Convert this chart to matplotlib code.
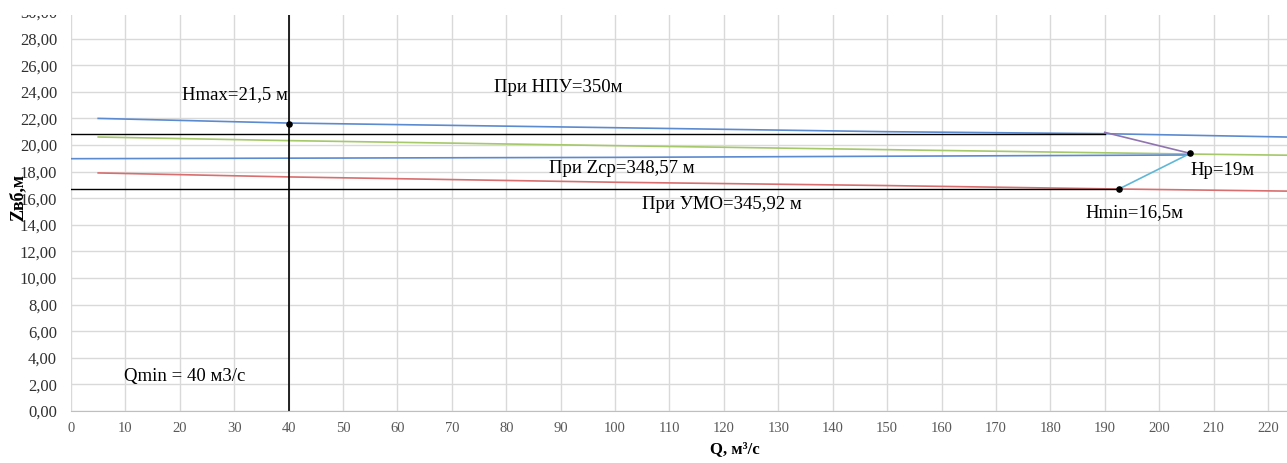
import matplotlib
matplotlib.use('Agg')
import matplotlib.pyplot as plt
from matplotlib.patches import Rectangle
from matplotlib.ticker import FuncFormatter, MultipleLocator

plt.rcParams['font.family'] = ['Liberation Serif', 'DejaVu Serif']

# curves Zвб(Q)
q_npu = [5, 40, 100, 150, 190, 230]
z_npu = [22.0, 21.65, 21.3, 21.0, 20.85, 20.55]
q_sr = [5, 40, 100, 150, 205.7, 230]
z_sr = [20.6, 20.33, 19.95, 19.65, 19.32, 19.2]
q_sr2 = [0, 100, 205.7]
z_sr2 = [18.97, 19.07, 19.25]
q_umo = [5, 40, 100, 150, 192.6, 230]
z_umo = [17.9, 17.6, 17.2, 16.95, 16.69, 16.5]

# working zone lines
q_top = [0, 190]
z_top = [20.85, 20.85]
q_bot = [0, 192.6]
z_bot = [16.67, 16.67]
q_upper_edge = [190, 205.7]
z_upper_edge = [20.95, 19.37]
q_lower_edge = [192.6, 205.7]
z_lower_edge = [16.69, 19.37]

q_min = 40
pts_q = [40, 205.7, 192.6]
pts_z = [21.6, 19.37, 16.69]

fig = plt.figure(figsize=(12.87, 4.63), dpi=100)
ax = fig.add_axes([71 / 1287, 52 / 463, 1216 / 1287, 399 / 463])

ax.plot(q_npu, z_npu, color='#5b8ad0', lw=1.2)
ax.plot(q_sr, z_sr, color='#a5c868', lw=1.2)
ax.plot(q_sr2, z_sr2, color='#5b8ad0', lw=1.2)
ax.plot(q_umo, z_umo, color='#d86e6e', lw=1.2)
ax.plot(q_top, z_top, color='black', lw=1.0)
ax.plot(q_bot, z_bot, color='black', lw=1.0)
ax.plot(q_upper_edge, z_upper_edge, color='#8f74b0', lw=1.2)
ax.plot(q_lower_edge, z_lower_edge, color='#5fb8d6', lw=1.2)
ax.axvline(q_min, color='black', lw=1.2)
ax.scatter(pts_q, pts_z, s=14, color='black', zorder=5)

ax.set_xlim(0, 223.5)
ax.set_ylim(0, 30)
ax.xaxis.set_major_locator(MultipleLocator(10))
ax.yaxis.set_major_locator(MultipleLocator(2))
ax.yaxis.set_major_formatter(FuncFormatter(lambda v, p: '{:.2f}'.format(v).replace('.', ',')))
ax.grid(True, color='#d9d9d9', lw=1.0)
ax.set_axisbelow(True)
for s in ['top', 'right', 'left']:
    ax.spines[s].set_visible(False)
ax.spines['bottom'].set_color('#bfbfbf')
ax.tick_params(length=0)
ax.tick_params(axis='y', labelsize=12, colors='#303030', pad=10)
ax.tick_params(axis='x', labelsize=10.5, colors='#595959', pad=8)

ax.set_xlabel('Q, м³/с', fontsize=12, fontweight='bold')
ax.xaxis.set_label_coords(0.546, -0.076)
ax.set_ylabel('Zвб,м', fontsize=13, fontweight='bold')
ax.yaxis.set_label_coords(-0.037, 0.535)

fs = 13.5
ax.text(20.4, 23.8, 'Hmax=21,5 м', fontsize=fs, va='center')
ax.text(77.8, 24.3, 'При НПУ=350м', fontsize=fs, va='center')
ax.text(87.9, 18.27, 'При Zср=348,57 м', fontsize=fs, va='center')
ax.text(105, 15.5, 'При УМО=345,92 м', fontsize=fs, va='center')
ax.text(205.7, 18.05, 'Hp=19м', fontsize=fs, va='center')
ax.text(186.4, 14.9, 'Hmin=16,5м', fontsize=fs, va='center')
ax.text(9.7, 2.63, 'Qmin = 40 м3/с', fontsize=fs, va='center')

# the top strip of the original chart is cut off
fig.patches.append(Rectangle((0, 1 - 15 / 463), 1, 15 / 463, transform=fig.transFigure,
                             facecolor='white', edgecolor='none', zorder=10))

fig.savefig('out.png', dpi=100)
